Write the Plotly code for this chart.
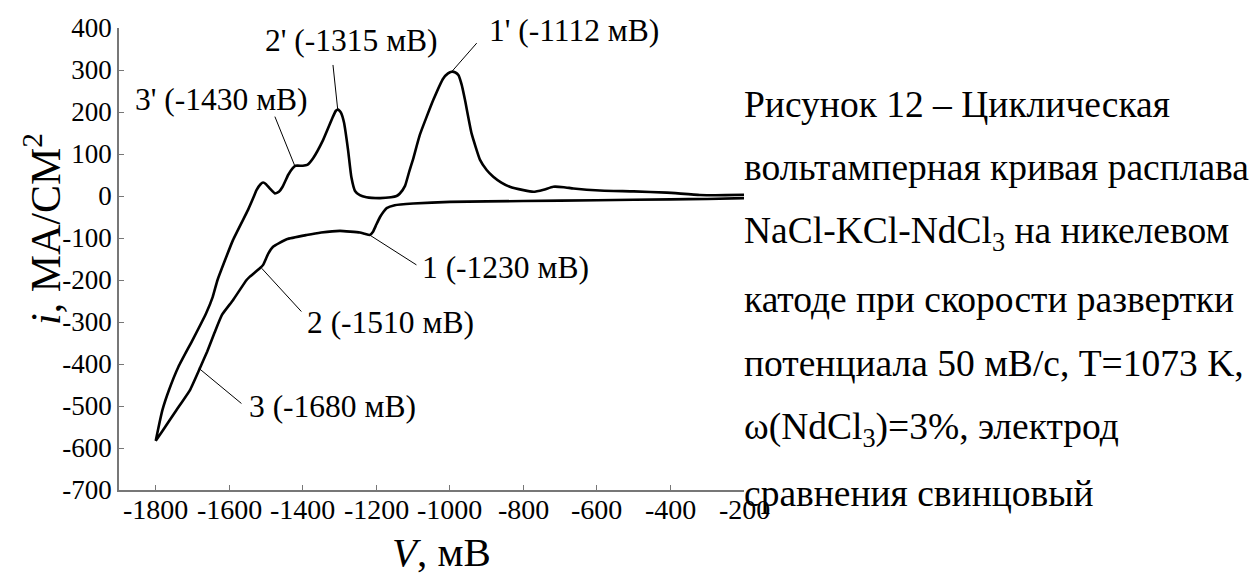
import plotly.graph_objects as go

# Cyclic voltammogram, NaCl-KCl-NdCl3 melt on a nickel cathode
# cathodic sweep: from -200 mV down to -1800 mV
cath_v = [-200, -300, -400, -600, -800, -1000, -1100, -1150, -1172, -1181, -1190,
          -1200, -1209, -1218, -1232, -1245, -1299, -1350, -1390, -1444, -1481,
          -1494, -1508, -1517, -1544, -1553, -1590, -1620, -1640, -1660, -1680,
          -1707, -1744, -1780, -1800]
cath_i = [-5, -7, -8, -10, -12, -14, -18, -22, -29, -38, -50,
          -68, -85, -93, -90, -87, -83, -87, -93, -103, -121,
          -137, -164, -172, -192, -200, -248, -283, -325, -370, -410,
          -462, -510, -557, -583]

# anodic sweep: from -1800 mV back to -200 mV
anod_v = [-1800, -1794, -1782, -1764, -1738, -1700, -1663, -1645, -1632, -1590,
          -1549, -1535, -1526, -1515, -1508, -1500, -1490, -1476, -1465, -1455,
          -1440, -1428, -1420, -1400, -1388, -1372, -1345, -1318, -1310, -1304,
          -1296, -1288, -1277, -1268, -1258, -1245, -1227, -1190, -1160, -1145,
          -1136, -1122, -1110, -1100, -1082, -1045, -1018, -1005, -995, -985,
          -977, -968, -959, -941, -918, -900, -882, -860, -837, -800, -773,
          -745, -719, -690, -664, -592, -500, -410, -320, -250, -200]
anod_i = [-583, -557, -510, -462, -406, -343, -279, -240, -200, -105,
          -33, -5, 14, 28, 32, 28, 18, 6, 10, 22,
          50, 66, 72, 72, 74, 90, 133, 189, 203, 206,
          198, 175, 110, 45, 12, 2, -3, -5, -3, 0,
          6, 24, 60, 88, 145, 229, 280, 292, 296, 294,
          288, 265, 229, 149, 86, 62, 46, 32, 22, 14, 10,
          15, 22, 21, 18, 13, 11, 8, 2.4, 2, 3]

# peak labels: text, marked point on the curve, leader end, text left edge / middle
peak_text = ["1' (-1112 мВ)", "2' (-1315 мВ)", "3' (-1430 мВ)",
             "1 (-1230 мВ)", "2 (-1510 мВ)", "3 (-1680 мВ)"]
peak_v = [-995, -1305, -1422, -1218, -1512, -1683]
peak_i = [296, 205, 72, -93, -172, -410]
leader_v = [-927, -1318, -1476, -1091, -1404, -1567]
leader_i = [364, 312, 189, -164, -275, -494]
text_v = [-899, -1509, -1863, -1082, -1395, -1552]
text_i = [395, 371, 229, -171, -300, -502]

x_ticks = [-1800, -1600, -1400, -1200, -1000, -800, -600, -400, -200]
y_ticks = [400, 300, 200, 100, 0, -100, -200, -300, -400, -500, -600, -700]

caption_lines = [
    "Рисунок 12 – Циклическая",
    "вольтамперная кривая расплава",
    "NaCl-KCl-NdCl<sub>3</sub> на никелевом",
    "катоде при скорости развертки",
    "потенциала 50 мВ/с, Т=1073 K,",
    "ω(NdCl<sub>3</sub>)=3%, электрод",
    "сравнения свинцовый",
]
caption_pos = [105, 168, 233, 299, 363, 429, 493]  # line centres, px from top

FONT = "Liberation Serif, Times New Roman, DejaVu Serif, serif"
W, H = 1255, 576
L, R, T, B = 119, 511, 28, 86
plot_w = W - L - R
plot_h = H - T - B


def px_to_paper(px, py):
    return (px - L) / plot_w, 1 - (py - T) / plot_h


fig = go.Figure()
fig.add_trace(go.Scatter(
    x=cath_v + anod_v, y=cath_i + anod_i, mode="lines",
    line=dict(color="black", width=2.6, shape="spline", smoothing=0.4),
    hoverinfo="skip", showlegend=False))

for t, pv, pi, lv, li, tv, ti in zip(peak_text, peak_v, peak_i, leader_v, leader_i, text_v, text_i):
    fig.add_shape(type="line", x0=pv, y0=pi, x1=lv, y1=li, xref="x", yref="y",
                  line=dict(color="black", width=1))
    fig.add_annotation(x=tv, y=ti, xref="x", yref="y", text=t, showarrow=False,
                       xanchor="left", yanchor="middle",
                       font=dict(family=FONT, size=31.5, color="black"))

# figure caption to the right of the axes
for line, py in zip(caption_lines, caption_pos):
    cx, cy = px_to_paper(742, py)
    fig.add_annotation(x=cx, y=cy, xref="paper", yref="paper", text=line, showarrow=False,
                       xanchor="left", yanchor="middle",
                       font=dict(family=FONT, size=37.5, color="black"))

# x tick labels, set snugly under the axis line
_, ly = px_to_paper(0, 509)
for v in x_ticks:
    fig.add_annotation(x=v, y=ly, xref="x", yref="paper", text=str(v), showarrow=False,
                       xanchor="center", yanchor="middle",
                       font=dict(family=FONT, size=28, color="black"))

# axis titles
tx, ty = px_to_paper(42, 229)
fig.add_annotation(x=tx, y=ty, xref="paper", yref="paper", textangle=-90,
                   text="<i>i</i>, МА/СМ<sup>2</sup>", showarrow=False,
                   xanchor="center", yanchor="middle",
                   font=dict(family=FONT, size=42, color="black"))
tx, ty = px_to_paper(441, 552)
fig.add_annotation(x=tx, y=ty, xref="paper", yref="paper",
                   text="<i>V</i>, мВ", showarrow=False,
                   xanchor="center", yanchor="middle",
                   font=dict(family=FONT, size=41, color="black"))

axis_common = dict(showgrid=False, zeroline=False, showline=True, linecolor="#777777",
                   linewidth=1.5, ticks="inside", ticklen=5, tickwidth=1.2,
                   tickcolor="#777777")

fig.update_layout(
    width=W, height=H, margin=dict(l=L, r=R, t=T, b=B, pad=0),
    paper_bgcolor="white", plot_bgcolor="white",
    font=dict(family=FONT),
    xaxis=dict(range=[-1900, -200], tickvals=x_ticks, showticklabels=False,
               **axis_common),
    yaxis=dict(range=[-700, 400], tickvals=y_ticks, ticktext=[str(v) for v in y_ticks],
               tickfont=dict(family=FONT, size=27, color="black"),
               **axis_common),
)

fig.write_html("out.html")
